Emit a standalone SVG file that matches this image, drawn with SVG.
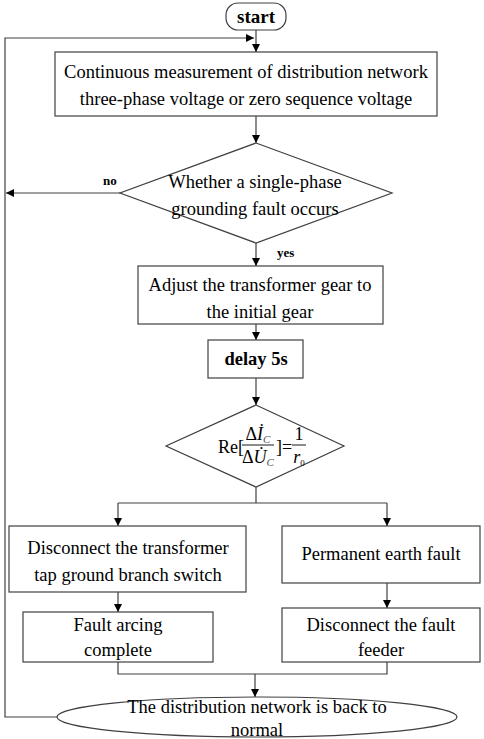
<svg xmlns="http://www.w3.org/2000/svg" width="484" height="739" viewBox="0 0 484 739">
<style>
.s{fill:#fff;stroke:#404040;stroke-width:1.2}
.c{fill:none;stroke:#404040;stroke-width:1.2}
.t{font-family:"Liberation Serif","Times New Roman",serif;font-size:18.5px;fill:#000;text-anchor:middle}
.b{font-weight:bold}
.f{font-size:18px}
.l{font-family:"Liberation Serif","Times New Roman",serif;font-size:13px;font-weight:bold;fill:#000}
</style>
<defs>
<marker id="a" viewBox="0 0 10 10" refX="10" refY="5" markerWidth="8" markerHeight="8" markerUnits="userSpaceOnUse" orient="auto">
<path d="M0,0L10,5L0,10z" fill="#000"/>
</marker>
</defs>
<rect width="484" height="739" fill="#fff"/>
<g id="connectors">
<path class="c" d="M256,30V52" marker-end="url(#a)"/>
<path class="c" d="M57,717H5V38H254" marker-end="url(#a)"/>
<path class="c" d="M256,116V143" marker-end="url(#a)"/>
<path class="c" d="M120,193H6" marker-end="url(#a)"/>
<path class="c" d="M256,243V266" marker-end="url(#a)"/>
<path class="c" d="M256,324V340" marker-end="url(#a)"/>
<path class="c" d="M256,378V405" marker-end="url(#a)"/>
<path class="c" d="M256,487V503"/>
<path class="c" d="M118,503H387"/>
<path class="c" d="M118,503V526" marker-end="url(#a)"/>
<path class="c" d="M387,503V526" marker-end="url(#a)"/>
<path class="c" d="M118,592V612" marker-end="url(#a)"/>
<path class="c" d="M387,583V608" marker-end="url(#a)"/>
<path class="c" d="M118,662V674H387V662"/>
<path class="c" d="M255,674V697" marker-end="url(#a)"/>
<text class="l" x="103" y="185">no</text>
<text class="l" x="277" y="257">yes</text>
</g>
<g id="start">
<rect class="s" x="226" y="3" width="60" height="27" rx="12"/>
<text class="t b" x="256" y="23" style="font-size:19px">start</text>
</g>
<g id="measure">
<rect class="s" x="55" y="52" width="382" height="64"/>
<text class="t" x="246" y="78">Continuous measurement of distribution network</text>
<text class="t" x="246" y="105">three-phase voltage or zero sequence voltage</text>
</g>
<g id="fault-check">
<path class="s" d="M256,143L392,193L256,243L120,193z"/>
<text class="t" x="255" y="188">Whether a single-phase</text>
<text class="t" x="255" y="215">grounding fault occurs</text>
</g>
<g id="adjust">
<rect class="s" x="138" y="266" width="245" height="58"/>
<text class="t" x="260" y="291">Adjust the transformer gear to</text>
<text class="t" x="260" y="318">the initial gear</text>
</g>
<g id="delay">
<rect class="s" x="208" y="340" width="95" height="38"/>
<text class="t b" x="256" y="365">delay 5s</text>
</g>
<g id="condition">
<path class="s" d="M256,405L344,446L256,487L166,446z"/>
<text class="t f" x="231" y="453">Re[</text>
<text class="t f" x="258" y="440">Δ<tspan font-style="italic">İ</tspan><tspan font-style="italic" font-size="11" fill="#555" dy="3">C</tspan></text>
<path class="c" d="M242,445H274"/>
<text class="t f" x="258" y="463">Δ<tspan font-style="italic">U̇</tspan><tspan font-style="italic" font-size="11" fill="#555" dy="3">C</tspan></text>
<text class="t f" x="284" y="453">]=</text>
<text class="t f" x="299" y="440">1</text>
<path class="c" d="M292,445H306"/>
<text class="t f" x="299" y="463"><tspan font-style="italic">r</tspan><tspan font-size="9" dy="3">0</tspan></text>
</g>
<g id="disconnect-tap">
<rect class="s" x="9" y="526" width="237" height="66"/>
<text class="t" x="128" y="554">Disconnect the transformer</text>
<text class="t" x="128" y="581">tap ground branch switch</text>
</g>
<g id="permanent">
<rect class="s" x="282" y="526" width="198" height="57"/>
<text class="t" x="381" y="560">Permanent earth fault</text>
</g>
<g id="arcing">
<rect class="s" x="23" y="612" width="190" height="50"/>
<text class="t" x="118" y="631">Fault arcing</text>
<text class="t" x="118" y="656">complete</text>
</g>
<g id="disconnect-feeder">
<rect class="s" x="282" y="608" width="198" height="54"/>
<text class="t" x="381" y="631">Disconnect the fault</text>
<text class="t" x="381" y="656">feeder</text>
</g>
<g id="normal">
<ellipse class="s" cx="257" cy="717" rx="200" ry="20"/>
<text class="t" x="257" y="713">The distribution network is back to</text>
<text class="t" x="257" y="736">normal</text>
</g>
</svg>
